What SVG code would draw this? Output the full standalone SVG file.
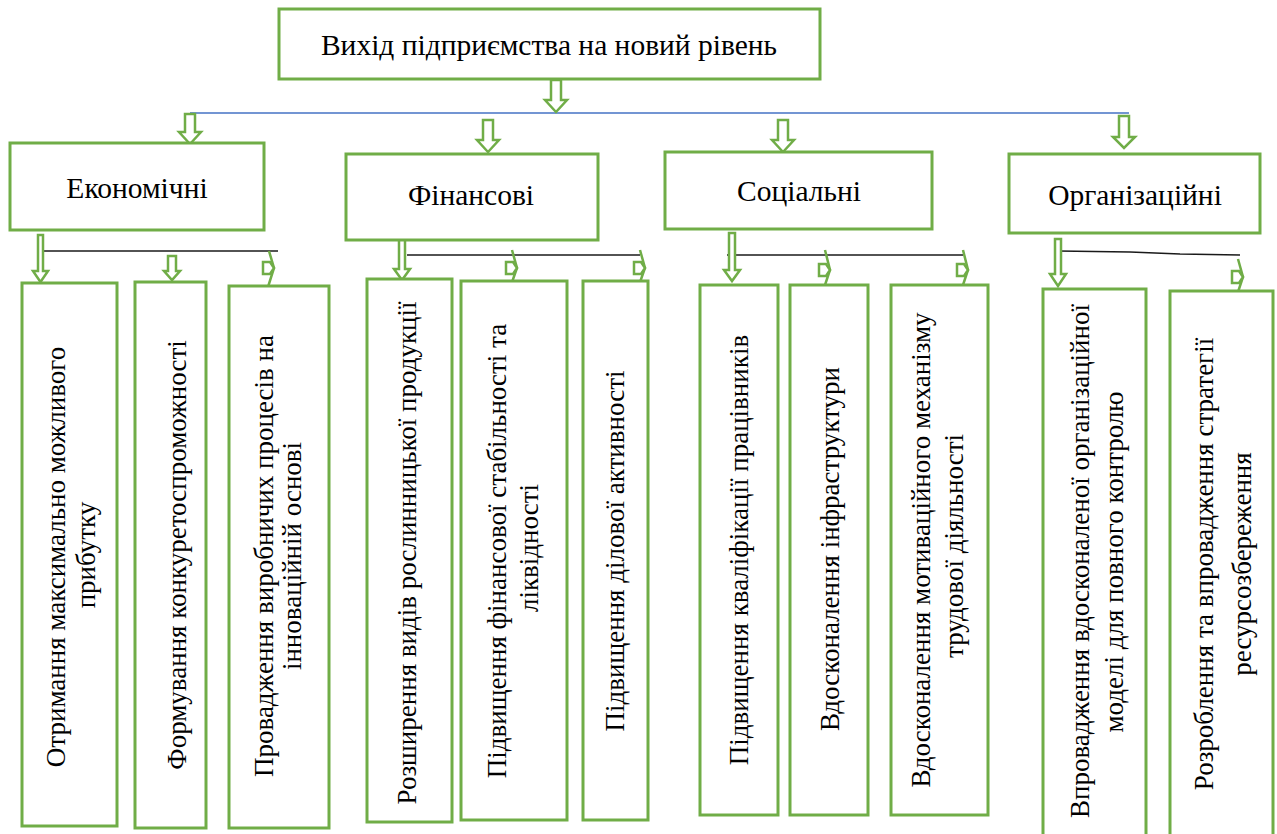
<svg xmlns="http://www.w3.org/2000/svg" width="1277" height="834" viewBox="0 0 1277 834">
<style>
.box{fill:#fff;stroke:#70ad47;stroke-width:3}
.arr{fill:#fff;stroke:#70ad47;stroke-width:2.5;stroke-linejoin:miter}
.ln{fill:none;stroke:#70ad47;stroke-width:2.5}
.blk{stroke:#1a1a1a;stroke-width:1.5;fill:none}
.blue{stroke:#4472c4;stroke-width:1.5;fill:none}
.t1{font-size:29.5px}
.t2{font-size:29.5px}
.t3{font-size:27px}
</style>
<rect width="1277" height="834" fill="#fff"/>
<g id="connectors">
<line class="blue" x1="190" y1="113" x2="1129" y2="113"/>
<polygon class="arr" points="551,80 561,80 561,100 567,100 556,112 545,100 551,100"/>
<polygon class="arr" points="185,114 195,114 195,132 201,132 190,144 179,132 185,132"/>
<polygon class="arr" points="483,120 493,120 493,140 499,140 488,152 477,140 483,140"/>
<polygon class="arr" points="778,120 788,120 788,140 794,140 783,152 772,140 778,140"/>
<polygon class="arr" points="1119,116 1129,116 1129,137 1135,137 1124,148 1113,137 1119,137"/>
<line class="blk" x1="44" y1="251" x2="278" y2="251"/>
<line class="blk" x1="407" y1="255" x2="640" y2="255"/>
<line class="blk" x1="727" y1="255" x2="963" y2="255"/>
<polyline class="blk" points="1058,251 1130,252 1180,254 1240,255"/>
<polygon class="arr" points="38,235 43,235 43,271 48,271 40.5,282 33,271 38,271"/>
<polygon class="arr" points="168,256 176,256 176,271 180,271 172,280 164,271 168,271"/>
<polygon class="arr" points="399,234 405,234 405,269 410,269 402,280 394,269 399,269"/>
<polygon class="arr" points="729,233 735,233 735,270 740,270 732,281 724,270 729,270"/>
<polygon class="arr" points="1055,239 1061,239 1061,274 1066,274 1058,286 1050,274 1055,274"/>
<g id="side-arrows">
<path class="ln" d="M269,251 L274,268 L268,287"/>
<path class="arr" d="M263,262 H270 L274,268 L270,274 H263 Z"/>
<path class="ln" d="M512,250 L517,268 L511,285"/>
<path class="arr" d="M506,262 H513 L517,268 L513,274 H506 Z"/>
<path class="ln" d="M640,250 L645,268 L639,285"/>
<path class="arr" d="M634,262 H641 L645,268 L641,274 H634 Z"/>
<path class="ln" d="M825,250 L830,270 L824,288"/>
<path class="arr" d="M819,264 H826 L830,270 L826,276 H819 Z"/>
<path class="ln" d="M963,250 L968,270 L962,288"/>
<path class="arr" d="M957,264 H964 L968,270 L964,276 H957 Z"/>
<path class="ln" d="M1238,259 L1243,277 L1237,295"/>
<path class="arr" d="M1232,271 H1239 L1243,277 L1239,283 H1232 Z"/>
</g>
</g>
<g font-family="'Liberation Serif', 'Times New Roman', Times, 'DejaVu Serif', serif" fill="#000">
<g id="root">
<rect class="box" x="279" y="9" width="541" height="70"/>
<text class="t1" x="549" y="55" text-anchor="middle">Вихід підприємства на новий рівень</text>
</g>
<g id="economic">
<rect class="box" x="10" y="143" width="254" height="87"/>
<text class="t2" x="137" y="198" text-anchor="middle">Економічні</text>
</g>
<g id="financial">
<rect class="box" x="346" y="154" width="252" height="86"/>
<text class="t2" x="471" y="205" text-anchor="middle">Фінансові</text>
</g>
<g id="social">
<rect class="box" x="665" y="152" width="267" height="77"/>
<text class="t2" x="799" y="201" text-anchor="middle">Соціальні</text>
</g>
<g id="organizational">
<rect class="box" x="1009" y="154" width="251" height="79"/>
<text class="t2" x="1135" y="205" text-anchor="middle">Організаційні</text>
</g>
<g id="e1">
<rect class="box" x="22" y="283" width="95" height="543"/>
<text class="t3" transform="translate(65,557) rotate(-90)" text-anchor="middle">Отримання максимально можливого</text>
<text class="t3" transform="translate(95,555) rotate(-90)" text-anchor="middle">прибутку</text>
</g>
<g id="e2">
<rect class="box" x="135" y="282" width="71" height="546"/>
<text class="t3" transform="translate(186,555) rotate(-90)" text-anchor="middle">Формування конкуретоспроможності</text>
</g>
<g id="e3">
<rect class="box" x="229" y="286" width="100" height="542"/>
<text class="t3" transform="translate(273,556) rotate(-90)" text-anchor="middle">Провадження виробничих процесів на</text>
<text class="t3" transform="translate(301,556) rotate(-90)" text-anchor="middle">інноваційній основі</text>
</g>
<g id="f1">
<rect class="box" x="367" y="279" width="85" height="543"/>
<text class="t3" transform="translate(416,553) rotate(-90)" text-anchor="middle">Розширення видів рослинницької продукції</text>
</g>
<g id="f2">
<rect class="box" x="461" y="281" width="106" height="539"/>
<text class="t3" transform="translate(506,551) rotate(-90)" text-anchor="middle">Підвищення фінансової стабільності та</text>
<text class="t3" transform="translate(538,548) rotate(-90)" text-anchor="middle">ліквідності</text>
</g>
<g id="f3">
<rect class="box" x="583" y="281" width="65" height="539"/>
<text class="t3" transform="translate(624,551) rotate(-90)" text-anchor="middle">Підвищення ділової активності</text>
</g>
<g id="s1">
<rect class="box" x="700" y="285" width="78" height="530"/>
<text class="t3" transform="translate(748,550) rotate(-90)" text-anchor="middle">Підвищення кваліфікації працівників</text>
</g>
<g id="s2">
<rect class="box" x="790" y="285" width="78" height="530"/>
<text class="t3" transform="translate(839,549) rotate(-90)" text-anchor="middle">Вдосконалення інфраструктури</text>
</g>
<g id="s3">
<rect class="box" x="891" y="285" width="97" height="530"/>
<text class="t3" transform="translate(930,550) rotate(-90)" text-anchor="middle">Вдосконалення мотиваційного механізму</text>
<text class="t3" transform="translate(963,546) rotate(-90)" text-anchor="middle">трудової діяльності</text>
</g>
<g id="o1">
<rect class="box" x="1043" y="289" width="103" height="560"/>
<text class="t3" transform="translate(1089,561) rotate(-90)" text-anchor="middle">Впровадження вдосконаленої організаційної</text>
<text class="t3" transform="translate(1123,562) rotate(-90)" text-anchor="middle">моделі для повного контролю</text>
</g>
<g id="o2">
<rect class="box" x="1170" y="291" width="103" height="560"/>
<text class="t3" transform="translate(1213,564) rotate(-90)" text-anchor="middle">Розроблення та впровадження стратегії</text>
<text class="t3" transform="translate(1251,564) rotate(-90)" text-anchor="middle">ресурсозбереження</text>
</g>
</g>
</svg>
